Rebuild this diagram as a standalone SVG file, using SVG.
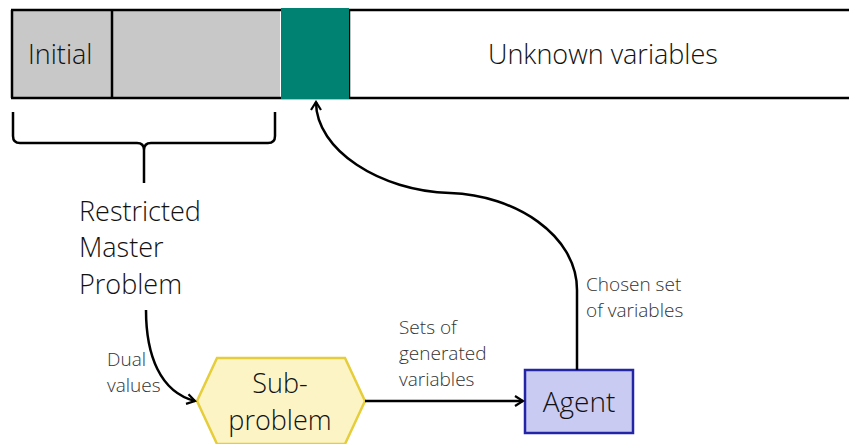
<svg xmlns="http://www.w3.org/2000/svg" width="849" height="444" viewBox="0 0 849 444">
  <style>
    text { font-family: "Open Sans", "Liberation Sans", sans-serif; font-weight: 300; fill: #111; }
    .big { font-size: 27px; }
    .agent { font-size: 28px; }
    .small { font-size: 19px; fill: #333; }
    .cell { stroke: #000; stroke-width: 2.5; }
    .line { fill: none; stroke: #000; stroke-width: 2.5; }
  </style>
  <defs>
    <marker id="arrow" viewBox="0 0 12 12" refX="10" refY="6" markerWidth="12" markerHeight="12" markerUnits="userSpaceOnUse" orient="auto">
      <path d="M2,1 L10,6 L2,11" fill="none" stroke="#000" stroke-width="2.2"/>
    </marker>
  </defs>

  <!-- variable bar -->
  <g id="bar">
    <rect x="12" y="10" width="268" height="88" fill="#c8c8c8"/>
    <line class="cell" x1="12" y1="10" x2="12" y2="98"/>
    <line class="cell" x1="112" y1="10" x2="112" y2="98"/>
    <line class="cell" x1="11" y1="10" x2="849" y2="10"/>
    <line class="cell" x1="11" y1="98" x2="849" y2="98"/>
    <line class="cell" x1="349" y1="10" x2="349" y2="98"/>
    <rect x="281" y="8" width="68" height="91" fill="#008272"/>
    <text class="big" x="28" y="64">Initial</text>
    <text class="big" x="488" y="64">Unknown variables</text>
  </g>

  <!-- brace under the restricted part -->
  <g id="brace">
    <path class="line" d="M13,112 V136 Q13,143 20,143 H137 Q144,143 144,150 V183 M144,150 Q144,143 151,143 H268 Q275,143 275,136 V112"/>
  </g>

  <g id="rmp">
    <text class="big" x="79" y="221">Restricted</text>
    <text class="big" x="79" y="257">Master</text>
    <text class="big" x="79" y="294">Problem</text>
  </g>

  <g id="subproblem">
    <polygon points="197,401 217,358 345,358 365,401 345,444 217,444" fill="#fdf4c6" stroke="#e6cd3a" stroke-width="2.5"/>
    <text class="big" x="280" y="393" text-anchor="middle">Sub-</text>
    <text class="big" x="280" y="430" text-anchor="middle">problem</text>
  </g>

  <g id="agent">
    <rect x="525" y="370" width="108" height="63" fill="#c9cbf2" stroke="#2424a6" stroke-width="2.5"/>
    <text class="agent" x="579" y="412" text-anchor="middle">Agent</text>
  </g>

  <g id="connectors">
    <path class="line" d="M146,310 C146,355 160,392 195,401" marker-end="url(#arrow)"/>
    <path class="line" d="M365,401 H523" marker-end="url(#arrow)"/>
    <path class="line" d="M577,370 V290 C577,235 515,195 450,193 C380,191 316,150 316,102" marker-end="url(#arrow)"/>
  </g>

  <g id="labels">
    <text class="small" x="107" y="366">Dual</text>
    <text class="small" x="107" y="392">values</text>
    <text class="small" x="399" y="334">Sets of</text>
    <text class="small" x="399" y="360">generated</text>
    <text class="small" x="399" y="386">variables</text>
    <text class="small" x="586" y="291">Chosen set</text>
    <text class="small" x="586" y="317">of variables</text>
  </g>
</svg>
